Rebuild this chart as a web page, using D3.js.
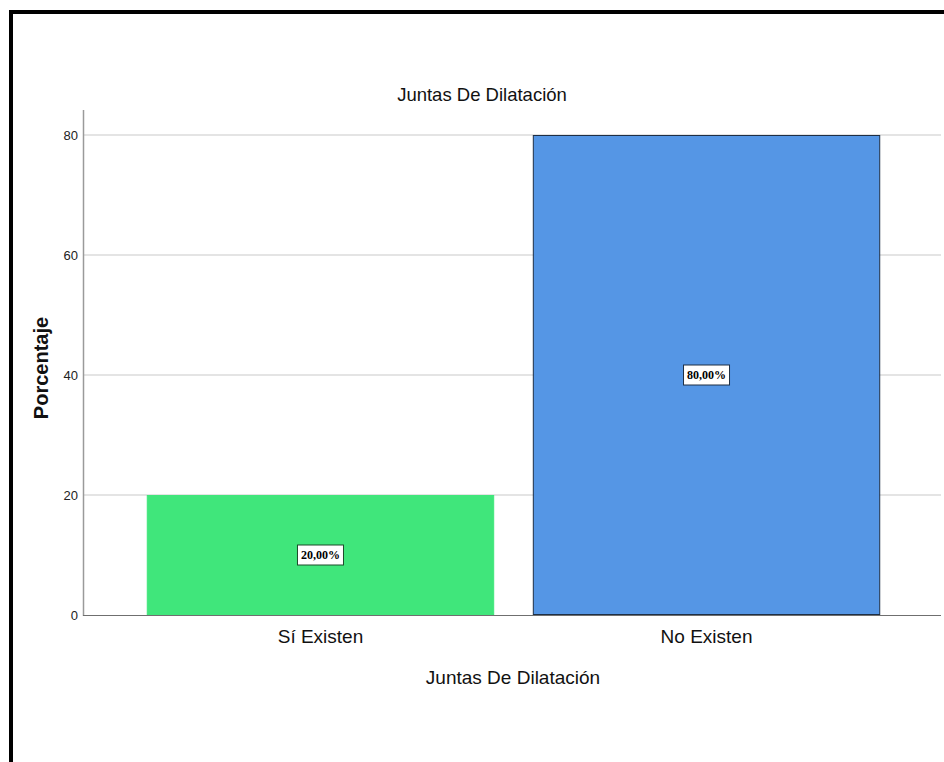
<!DOCTYPE html>
<html><head><meta charset="utf-8">
<script src="https://cdn.jsdelivr.net/npm/d3@7"></script>
<style>html,body{margin:0;padding:0;background:#fff;}svg{display:block;}</style>
</head><body>
<svg id="chart" width="944" height="762"></svg>
<script>
const categories = ["Sí Existen", "No Existen"];
const values = [20, 80];
const valueLabels = ["20,00%", "80,00%"];
const yTicks = [0, 20, 40, 60, 80];
const barColors = ["#40e67b", "#5596e5"];
const barStrokes = ["#40e67b", "#1e2f45"];
const chartTitle = "Juntas De Dilatación";
const xTitle = "Juntas De Dilatación";
const yTitle = "Porcentaje";

const svg = d3.select("#chart");
// frame
svg.append("rect").attr("x", 9).attr("y", 10).attr("width", 960).attr("height", 4).attr("fill", "#000");
svg.append("rect").attr("x", 9).attr("y", 10).attr("width", 4).attr("height", 760).attr("fill", "#000");

const axisX = 83, plotRight = 941, axisTop = 110;
const y = d3.scaleLinear().domain([0, 80]).range([615, 135]);
const x = d3.scaleBand().domain(categories).range([85, 942]).paddingInner(0.1).paddingOuter(0.16);

// gridlines
svg.append("g").selectAll("line").data(yTicks.filter(d => d > 0)).join("line")
  .attr("x1", axisX).attr("x2", plotRight)
  .attr("y1", d => y(d)).attr("y2", d => y(d))
  .attr("stroke", "#c9c9c9").attr("stroke-width", 1);

// bars
svg.append("g").selectAll("rect").data(values).join("rect")
  .attr("x", (d, i) => x(categories[i]) + 0.5)
  .attr("y", d => y(d) + 0.5)
  .attr("width", x.bandwidth() - 1)
  .attr("height", d => y(0) - y(d) - 1)
  .attr("fill", (d, i) => barColors[i])
  .attr("stroke", (d, i) => barStrokes[i]).attr("stroke-width", 1);

// axes
const yAxis = d3.axisLeft(y).tickValues(yTicks).tickSize(0).tickPadding(5);
const gy = svg.append("g").attr("transform", `translate(${axisX},0)`).call(yAxis);
gy.select(".domain").remove();
gy.selectAll(".tick text").attr("font-family", "'Liberation Sans Narrow', 'Liberation Sans', Arial, sans-serif")
  .attr("font-size", 13).attr("fill", "#222");
svg.append("line").attr("x1", axisX + 0.5).attr("x2", axisX + 0.5).attr("y1", axisTop).attr("y2", 616)
  .attr("stroke", "#9a9a9a").attr("stroke-width", 1.5);
svg.append("line").attr("x1", axisX).attr("x2", plotRight).attr("y1", 615.5).attr("y2", 615.5)
  .attr("stroke", "#6f6f6f").attr("stroke-width", 1.2);

const xAxis = d3.axisBottom(x).tickSize(0).tickPadding(0);
const gx = svg.append("g").attr("transform", "translate(0,643)").call(xAxis);
gx.select(".domain").remove();
gx.selectAll(".tick text").attr("dy", null).attr("y", 0)
  .attr("font-family", "'Liberation Sans', Arial, sans-serif")
  .attr("font-size", 19).attr("fill", "#111");

// value labels
const lab = svg.append("g").selectAll("g").data(values).join("g")
  .attr("transform", (d, i) => `translate(${x(categories[i]) + x.bandwidth() / 2},${y(d / 2)})`);
lab.append("rect").attr("x", -23).attr("y", -10).attr("width", 46).attr("height", 20)
  .attr("fill", "#fff").attr("stroke", (d, i) => i === 0 ? "#1d4a2a" : "#1e2f45").attr("stroke-width", 1);
lab.append("text").text((d, i) => valueLabels[i])
  .attr("text-anchor", "middle").attr("dy", "0.36em")
  .attr("font-family", "'Liberation Serif', 'DejaVu Serif', serif").attr("font-weight", "bold")
  .attr("font-size", 12).attr("fill", "#000");

// titles
svg.append("text").text(chartTitle).attr("x", 482).attr("y", 101).attr("text-anchor", "middle")
  .attr("font-family", "'Liberation Sans', Arial, sans-serif").attr("font-size", 18.5).attr("fill", "#111");
svg.append("text").text(xTitle).attr("x", 513).attr("y", 684).attr("text-anchor", "middle")
  .attr("font-family", "'Liberation Sans', Arial, sans-serif").attr("font-size", 19).attr("fill", "#111");
svg.append("text").text(yTitle).attr("transform", "translate(48,368) rotate(-90)").attr("text-anchor", "middle")
  .attr("font-family", "'Liberation Sans', Arial, sans-serif").attr("font-weight", "bold").attr("font-size", 20).attr("fill", "#111");
</script>
</body></html>
